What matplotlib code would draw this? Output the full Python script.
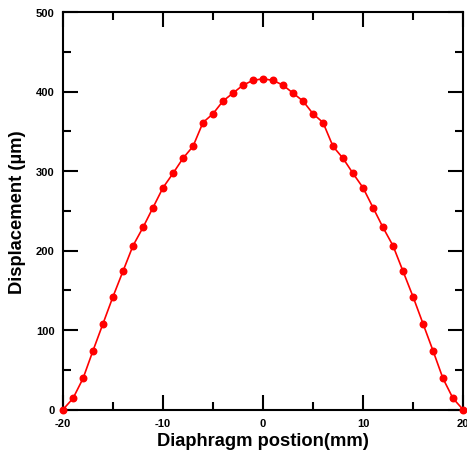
import matplotlib
matplotlib.use("Agg")
import matplotlib.pyplot as plt
from matplotlib.ticker import MultipleLocator

plt.rcParams['font.family'] = ['Liberation Sans', 'DejaVu Sans']
plt.rcParams['axes.unicode_minus'] = False

# diaphragm position (mm) and measured displacement (um)
position = list(range(-20, 21))
displacement = [0, 14, 39, 74, 108, 142, 174, 206, 229, 254,
                279, 297, 316, 331, 361, 372, 388, 398, 408, 414,
                416,
                414, 408, 398, 388, 372, 361, 331, 316, 297, 279,
                254, 229, 206, 174, 142, 108, 74, 39, 14, 0]

fig = plt.figure(figsize=(4.67, 4.52), dpi=100)
ax = fig.add_axes([63/467, 41.5/452, 400/467, 397.5/452])

ax.plot(position, displacement, color='red', lw=1.2, marker='o', ms=4.7,
        clip_on=False, zorder=3)

ax.set_xlim(-20, 20)
ax.set_ylim(0, 500)
ax.xaxis.set_major_locator(MultipleLocator(10))
ax.xaxis.set_minor_locator(MultipleLocator(5))
ax.yaxis.set_major_locator(MultipleLocator(100))
ax.yaxis.set_minor_locator(MultipleLocator(50))

ax.tick_params(which='both', direction='in', top=True, right=True, width=1.5)
ax.tick_params(which='major', length=10.5)
ax.tick_params(which='minor', length=5.5)
ax.tick_params(axis='x', which='major', labelsize=8, pad=6)
ax.tick_params(axis='y', which='major', labelsize=8, pad=6)
for lab in ax.get_xticklabels() + ax.get_yticklabels():
    lab.set_fontweight('bold')

for s in ax.spines.values():
    s.set_linewidth(1.5)

ax.set_xlabel('Diaphragm postion(mm)', fontsize=13.2, fontweight='bold', labelpad=3)
ax.set_ylabel('Displacement (µm)', fontsize=13.2, fontweight='bold', labelpad=7)

fig.savefig('out.png', dpi=100)
